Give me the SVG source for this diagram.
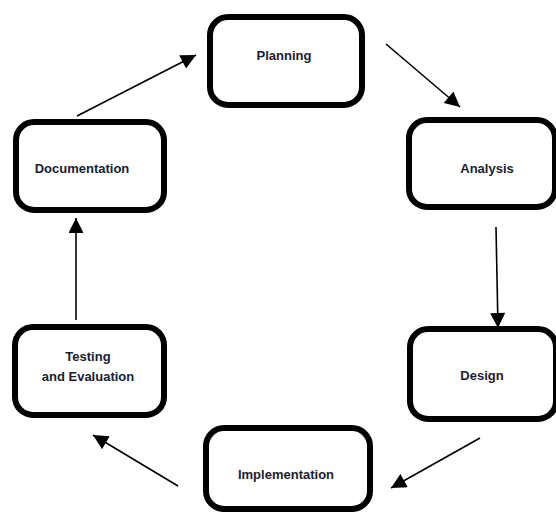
<svg xmlns="http://www.w3.org/2000/svg" width="556" height="514" viewBox="0 0 556 514">
<style>
.box{fill:#fff;stroke:#000;stroke-width:6}
.lbl{font-family:"Liberation Sans",Arial,sans-serif;font-weight:bold;font-size:13px;fill:#1c1c30;text-anchor:middle;dominant-baseline:central}
.conn{stroke:#000;stroke-width:1.6;fill:none;marker-end:url(#ah)}
</style>
<defs>
<marker id="ah" viewBox="0 0 10 10" refX="10" refY="5" markerUnits="userSpaceOnUse" markerWidth="16" markerHeight="15" orient="auto">
<path d="M0,0 L10,5 L0,10 z" fill="#000"/>
</marker>
</defs>
<rect width="556" height="514" fill="#fff"/>
<g id="connectors">
<line class="conn" x1="386" y1="44" x2="460" y2="107"/>
<line class="conn" x1="496" y1="227" x2="498" y2="328"/>
<line class="conn" x1="480" y1="438" x2="391" y2="488"/>
<line class="conn" x1="178" y1="486" x2="93" y2="435"/>
<line class="conn" x1="76" y1="320" x2="76" y2="218"/>
<line class="conn" x1="77" y1="116" x2="196" y2="55"/>
</g>
<g id="planning">
<rect class="box" x="210" y="17" width="152" height="88" rx="18"/>
<text class="lbl" x="284" y="55">Planning</text>
</g>
<g id="analysis">
<rect class="box" x="409" y="120" width="146" height="87" rx="18"/>
<text class="lbl" x="487" y="168">Analysis</text>
</g>
<g id="design">
<rect class="box" x="410" y="329" width="146" height="90" rx="18"/>
<text class="lbl" x="482" y="375">Design</text>
</g>
<g id="implementation">
<rect class="box" x="206" y="428" width="164" height="81" rx="18"/>
<text class="lbl" x="286" y="474">Implementation</text>
</g>
<g id="testing">
<rect class="box" x="15" y="327" width="149" height="88" rx="18"/>
<text class="lbl" x="88" y="356">Testing</text>
<text class="lbl" x="88" y="376">and Evaluation</text>
</g>
<g id="documentation">
<rect class="box" x="16" y="122" width="148" height="88" rx="18"/>
<text class="lbl" x="82" y="168">Documentation</text>
</g>
</svg>
